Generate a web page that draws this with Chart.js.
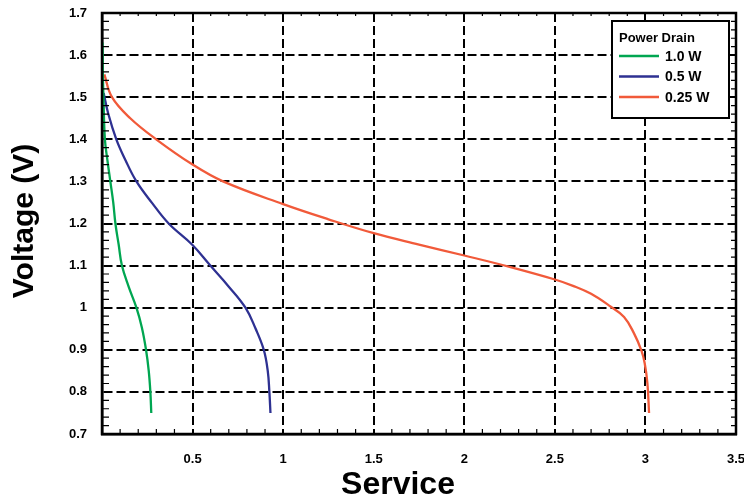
<!DOCTYPE html>
<html>
<head>
<meta charset="utf-8">
<script src="https://cdn.jsdelivr.net/npm/chart.js@4"></script>
<style>
  html, body { margin: 0; padding: 0; background: #fff; }
  #wrap { width: 744px; height: 496px; }
</style>
</head>
<body>
<div id="wrap"><canvas id="dischargeChart"></canvas></div>
<script>
// values (service vs voltage)
const seriesNames = ['1.0 W', '0.5 W', '0.25 W'];
const seriesColors = ['#00a651', '#2e3192', '#f15a3a'];

const service1W = [0.003, 0.005, 0.008, 0.016, 0.03, 0.046, 0.062, 0.074, 0.092, 0.11, 0.147, 0.19, 0.22, 0.243, 0.258, 0.267, 0.272];
const volts1W   = [1.63, 1.55, 1.5, 1.4, 1.35, 1.3, 1.25, 1.2, 1.15, 1.1, 1.05, 1.0, 0.953, 0.9, 0.85, 0.8, 0.75];

const service05W = [0.009, 0.035, 0.079, 0.129, 0.19, 0.276, 0.368, 0.497, 0.598, 0.7, 0.792, 0.847, 0.893, 0.915, 0.924, 0.93];
const volts05W   = [1.51, 1.46, 1.4, 1.351, 1.3, 1.249, 1.2, 1.15, 1.1, 1.05, 1.0, 0.951, 0.9, 0.85, 0.8, 0.75];

const service025W = [0.013, 0.055, 0.156, 0.299, 0.5, 0.668, 1.0, 1.25, 1.5, 1.75, 2.0, 2.25, 2.5, 2.6, 2.7, 2.8, 2.882, 2.937, 2.978, 2.996, 3.011, 3.02];
const volts025W   = [1.554, 1.5, 1.45, 1.4, 1.34, 1.3, 1.246, 1.21, 1.177, 1.15, 1.124, 1.097, 1.067, 1.052, 1.033, 1.005, 0.978, 0.939, 0.898, 0.868, 0.82, 0.75];

const xTicks = [0.5, 1, 1.5, 2, 2.5, 3, 3.5];
const yTicks = [0.7, 0.8, 0.9, 1, 1.1, 1.2, 1.3, 1.4, 1.5, 1.6, 1.7];

const legendTitle = 'Power Drain';
const xTitle = 'Service';
const yTitle = 'Voltage (V)';

function toPoints(xs, ys) {
    return xs.map((x, i) => ({ x: x, y: ys[i] }));
}

const FONT = "'Liberation Sans', Arial, sans-serif";

// frame, minor ticks, axis titles and the boxed legend
const framePlugin = {
    id: 'frame',
    afterDatasetsDraw(chart) {
        const ctx = chart.ctx;
        const a = chart.chartArea;
        const xs = chart.scales.x, ys = chart.scales.y;
        ctx.save();
        ctx.setLineDash([]);
        ctx.strokeStyle = '#000';
        ctx.lineWidth = 1.2;
        // minor ticks x every 0.1
        for (let i = 1; i < 35; i++) {
            if (i % 5 === 0) continue;
            const px = xs.getPixelForValue(i / 10);
            ctx.beginPath();
            ctx.moveTo(px, a.bottom); ctx.lineTo(px, a.bottom - 5);
            ctx.moveTo(px, a.top); ctx.lineTo(px, a.top + 3);
            ctx.stroke();
        }
        // minor ticks y every 0.02
        for (let i = 1; i < 50; i++) {
            if (i % 5 === 0) continue;
            const py = ys.getPixelForValue(0.7 + i * 0.02);
            ctx.beginPath();
            ctx.moveTo(a.left, py); ctx.lineTo(a.left + 7, py);
            ctx.moveTo(a.right, py); ctx.lineTo(a.right - 5, py);
            ctx.stroke();
        }
        ctx.lineWidth = 2.5;
        ctx.strokeRect(a.left, a.top, a.right - a.left, a.bottom - a.top);

        // legend box
        const bx = 612, by = 21, bw = 117, bh = 97;
        ctx.fillStyle = '#fff';
        ctx.fillRect(bx, by, bw, bh);
        ctx.lineWidth = 2;
        ctx.strokeRect(bx, by, bw, bh);
        ctx.fillStyle = '#000';
        ctx.font = 'bold 13px ' + FONT;
        ctx.textBaseline = 'middle';
        ctx.textAlign = 'left';
        ctx.fillText(legendTitle, 619, 38);
        chart.data.datasets.forEach((ds, i) => {
            const ly = 56 + i * 20.5;
            ctx.strokeStyle = ds.borderColor;
            ctx.lineWidth = 2.5;
            ctx.beginPath();
            ctx.moveTo(619, ly); ctx.lineTo(659, ly);
            ctx.stroke();
            ctx.fillStyle = '#000';
            ctx.font = 'bold 14px ' + FONT;
            ctx.fillText(ds.label, 665, ly + 1);
        });

        // axis titles
        ctx.fillStyle = '#000';
        ctx.font = 'bold 32px ' + FONT;
        ctx.textAlign = 'center';
        ctx.textBaseline = 'alphabetic';
        ctx.fillText(xTitle, 398, 494);
        ctx.save();
        ctx.translate(33, 221);
        ctx.rotate(-Math.PI / 2);
        ctx.font = 'bold 30px ' + FONT;
        ctx.fillText(yTitle, 0, 0);
        ctx.restore();
        ctx.restore();
    }
};

document.addEventListener('DOMContentLoaded', function() {
    const ctx = document.getElementById('dischargeChart').getContext('2d');
    const seriesData = [
        toPoints(service1W, volts1W),
        toPoints(service05W, volts05W),
        toPoints(service025W, volts025W)
    ];
    new Chart(ctx, {
        type: 'line',
        data: {
            datasets: seriesData.map((pts, i) => ({
                label: seriesNames[i],
                data: pts,
                borderColor: seriesColors[i],
                backgroundColor: seriesColors[i],
                borderWidth: 2.3,
                pointRadius: 0,
                fill: false,
                tension: 0.4
            }))
        },
        options: {
            responsive: true,
            maintainAspectRatio: false,
            animation: false,
            devicePixelRatio: 1,
            layout: { padding: { top: 13, right: 8, left: 0, bottom: 0 } },
            elements: { line: { tension: 0.4 } },
            plugins: {
                legend: { display: false },
                tooltip: { enabled: false }
            },
            scales: {
                x: {
                    type: 'linear',
                    min: 0,
                    max: 3.5,
                    afterFit: function(scale) {
                        scale.height = 62;
                        scale.paddingLeft = 0;
                        scale.paddingRight = 0;
                    },
                    afterBuildTicks: function(scale) {
                        scale.ticks = [0].concat(xTicks).map(v => ({ value: v }));
                    },
                    grid: {
                        color: '#000',
                        lineWidth: 2,
                        drawTicks: false
                    },
                    border: { display: true, color: '#000', width: 2.5, dash: [9, 4] },
                    ticks: {
                        padding: 18,
                        color: '#000',
                        maxRotation: 0,
                        font: { family: FONT, size: 13, weight: 'bold' },
                        callback: function(value) {
                            return value === 0 ? '' : String(Math.round(value * 10) / 10);
                        }
                    }
                },
                y: {
                    type: 'linear',
                    min: 0.7,
                    max: 1.7,
                    afterFit: function(scale) {
                        scale.width = 102;
                        scale.paddingTop = 0;
                        scale.paddingBottom = 0;
                    },
                    afterBuildTicks: function(scale) {
                        scale.ticks = yTicks.map(v => ({ value: v }));
                    },
                    grid: {
                        color: '#000',
                        lineWidth: 2,
                        drawTicks: false
                    },
                    border: { display: true, color: '#000', width: 2.5, dash: [9, 4] },
                    ticks: {
                        padding: 15,
                        color: '#000',
                        font: { family: FONT, size: 13, weight: 'bold' },
                        callback: function(value) {
                            return String(Math.round(value * 10) / 10);
                        }
                    }
                }
            }
        },
        plugins: [framePlugin]
    });
});
</script>
</body>
</html>
